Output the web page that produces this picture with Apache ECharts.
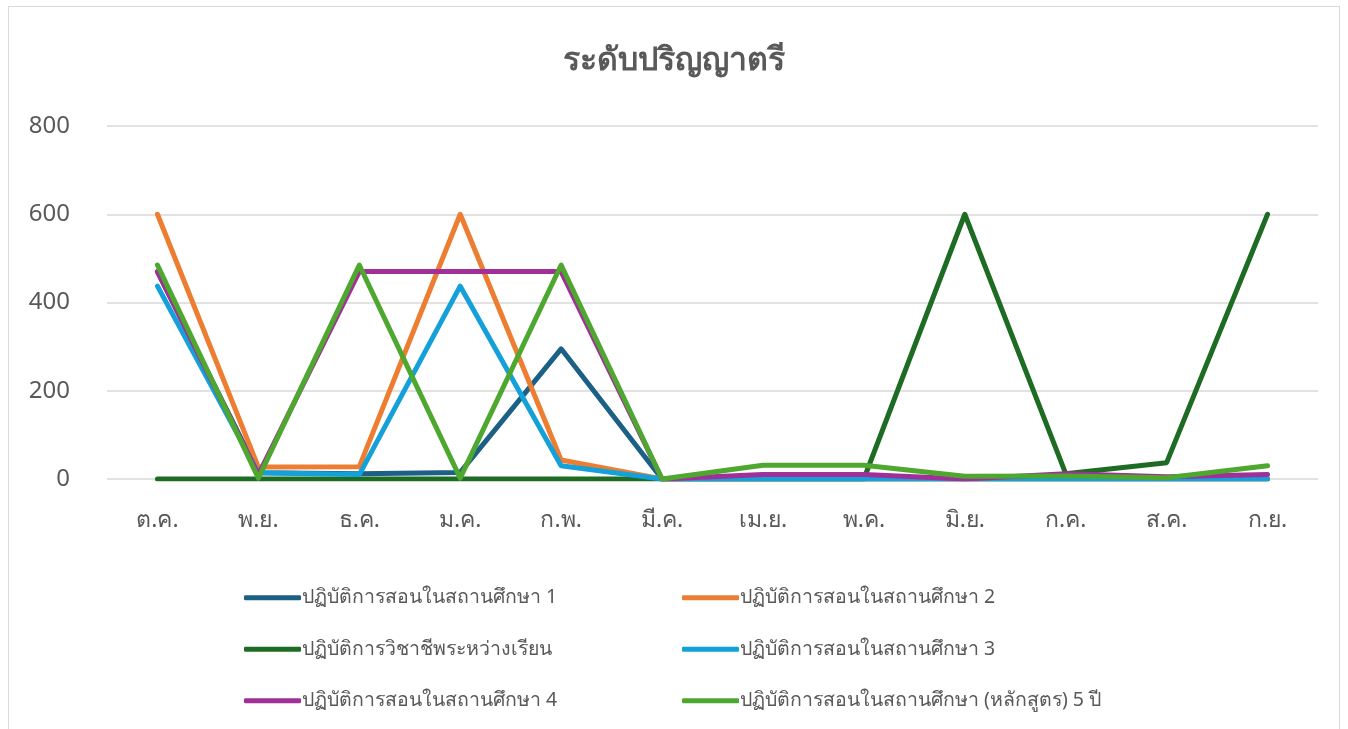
<!DOCTYPE html>
<html><head><meta charset="utf-8">
<script src="https://cdn.jsdelivr.net/npm/echarts@6/dist/echarts.min.js"></script>
<style>
html,body{margin:0;padding:0;background:#fff;}
#frame{position:absolute;left:8px;top:6px;width:1332px;height:740px;border:1px solid #d9d9d9;box-sizing:border-box;}
#c{position:absolute;left:0;top:0;width:1348px;height:729px;}
</style></head>
<body>
<div id="frame"></div>
<div id="c"></div>
<script>
const categories = ['ต.ค.','พ.ย.','ธ.ค.','ม.ค.','ก.พ.','มี.ค.','เม.ย.','พ.ค.','มิ.ย.','ก.ค.','ส.ค.','ก.ย.'];
const seriesNames = [
  'ปฏิบัติการสอนในสถานศึกษา 1',
  'ปฏิบัติการสอนในสถานศึกษา 2',
  'ปฏิบัติการวิชาชีพระหว่างเรียน',
  'ปฏิบัติการสอนในสถานศึกษา 3',
  'ปฏิบัติการสอนในสถานศึกษา 4',
  'ปฏิบัติการสอนในสถานศึกษา (หลักสูตร) 5 ปี'
];
const practice1 = [470, 14, 12, 15, 295, 0, 0, 0, 0, 0, 0, 0];
const practice2 = [600, 27, 28, 600, 43, 0, 0, 0, 0, 0, 0, 0];
const profession = [0, 0, 0, 0, 0, 0, 0, 0, 600, 12, 37, 600];
const practice3 = [437, 14, 10, 437, 30, 0, 0, 0, 0, 0, 0, 0];
const practice4 = [470, 10, 470, 470, 470, 0, 10, 10, 0, 12, 5, 10];
const practice5yr = [485, 2, 485, 2, 485, 0, 31, 31, 6, 7, 3, 30];
const yTicks = [0, 200, 400, 600, 800];
const colors = ['#1c6086', '#ed7d31', '#1e6b24', '#14a0d8', '#a02f98', '#4ea72e'];
const values = [practice1, practice2, profession, practice3, practice4, practice5yr];

const font = '"Noto Sans", "Noto Sans CJK SC", sans-serif';
const chart = echarts.init(document.getElementById('c'));
const legendCommon = {
  orient: 'vertical', top: 583, itemGap: 32, itemWidth: 57, itemHeight: 5,
  icon: 'roundRect',
  textStyle: {color: '#595959', fontSize: 19.5, fontFamily: font, padding: [0,0,0,-4]}
};
chart.setOption({
  animation: false,
  color: colors,
  title: {
    text: 'ระดับปริญญาตรี', left: 'center', top: 40,
    textStyle: {color: '#595959', fontSize: 32, fontWeight: 'bold', fontFamily: font}
  },
  legend: [
    Object.assign({}, legendCommon, {left: 239, data: [seriesNames[0], seriesNames[2], seriesNames[4]]}),
    Object.assign({}, legendCommon, {left: 677, data: [seriesNames[1], seriesNames[3], seriesNames[5]]})
  ],
  grid: {left: 107, right: 30, top: 126, bottom: 250, containLabel: false},
  xAxis: {
    type: 'category', data: categories, boundaryGap: true,
    axisLine: {show: false}, axisTick: {show: false},
    axisLabel: {color: '#595959', fontSize: 23, fontFamily: font, margin: 30}
  },
  yAxis: {
    type: 'value', min: yTicks[0], max: yTicks[yTicks.length-1], interval: 200,
    axisLine: {show: false}, axisTick: {show: false},
    axisLabel: {color: '#595959', fontSize: 24, fontFamily: font, margin: 37},
    splitLine: {lineStyle: {color: '#d9d9d9', width: 1.5}}
  },
  series: seriesNames.map((n, i) => ({
    name: n, type: 'line', data: values[i], symbol: 'none',
    lineStyle: {width: 5, color: colors[i], cap: 'round', join: 'round'},
    itemStyle: {color: colors[i]}
  }))
});
</script>
</body></html>
